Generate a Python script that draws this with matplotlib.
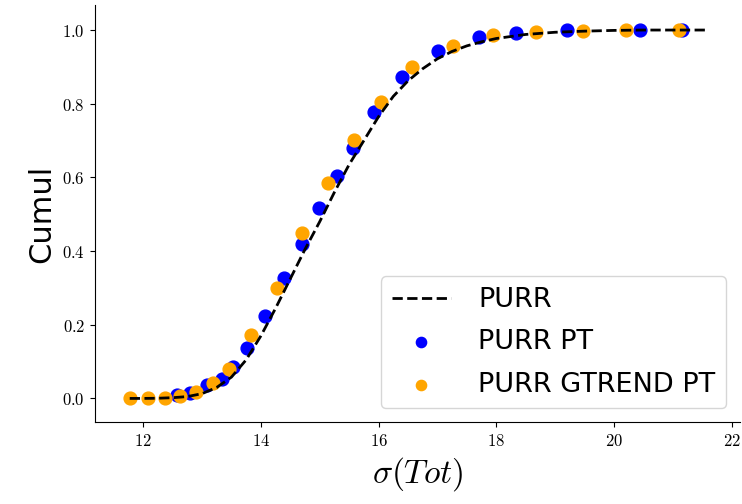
import matplotlib
matplotlib.use("Agg")
import matplotlib.pyplot as plt
from matplotlib.ticker import FuncFormatter

plt.rcParams['mathtext.fontset'] = 'cm'

# PURR cumulative curve
purr_x = [11.77, 12.0, 12.25, 12.5, 12.75, 13.0, 13.25, 13.5, 13.75, 14.0,
          14.25, 14.5, 14.75, 15.0, 15.25, 15.5, 15.75, 16.0, 16.25, 16.5,
          16.75, 17.0, 17.25, 17.5, 17.75, 18.0, 18.5, 19.0, 19.5, 20.0,
          20.5, 21.0, 21.6]
purr_y = [0.0, 0.0, 0.0005, 0.002, 0.005, 0.013, 0.03, 0.058, 0.105, 0.17,
          0.245, 0.325, 0.405, 0.48, 0.56, 0.635, 0.70, 0.765, 0.82, 0.862,
          0.895, 0.922, 0.942, 0.957, 0.968, 0.977, 0.988, 0.994, 0.997, 0.999,
          1.0, 1.0, 1.0]

# PURR PT points
pt_x = [12.57, 12.79, 13.09, 13.34, 13.52, 13.77, 14.07, 14.40, 14.70, 14.99,
        15.29, 15.57, 15.92, 16.39, 17.01, 17.70, 18.33, 19.21, 20.44, 21.15]
pt_y = [0.009, 0.014, 0.036, 0.052, 0.085, 0.138, 0.223, 0.326, 0.419, 0.516,
        0.604, 0.681, 0.777, 0.873, 0.944, 0.980, 0.991, 1.0, 1.0, 1.0]

# PURR GTREND PT points
gt_x = [11.77, 12.08, 12.37, 12.62, 12.90, 13.18, 13.46, 13.83, 14.27, 14.70,
        15.14, 15.58, 16.04, 16.56, 17.26, 17.95, 18.67, 19.48, 20.21, 21.10]
gt_y = [0.0, 0.0, 0.0, 0.006, 0.018, 0.041, 0.079, 0.172, 0.301, 0.448,
        0.584, 0.701, 0.805, 0.900, 0.957, 0.986, 0.995, 0.998, 1.0, 1.0]

fig = plt.figure(figsize=(7.42, 5.04), dpi=100)
ax = fig.add_axes([0.1276, 0.1627, 0.8694, 0.8274])

ax.plot(purr_x, purr_y, 'k--', lw=2, label='PURR', zorder=3)
ax.scatter(pt_x, pt_y, s=85, color='blue', label='PURR PT', zorder=2)
ax.scatter(gt_x, gt_y, s=85, color='orange', label='PURR GTREND PT', zorder=2)

ax.set_xlim(11.174, 22.14)
ax.set_ylim(-0.064, 1.068)
ax.set_xticks([12, 14, 16, 18, 20, 22])
ax.set_yticks([0.0, 0.2, 0.4, 0.6, 0.8, 1.0])
ax.xaxis.set_major_formatter(FuncFormatter(lambda v, p: r'$%d$' % v))
ax.yaxis.set_major_formatter(FuncFormatter(lambda v, p: r'$%.1f$' % v))
ax.tick_params(labelsize=12)

ax.spines['top'].set_visible(False)
ax.spines['right'].set_visible(False)

ax.set_xlabel(r'$\sigma(Tot)$', fontsize=24)
ax.set_ylabel('Cumul', fontsize=22)

ax.legend(loc='lower right', fontsize=19.5, labelspacing=0.6,
          borderaxespad=0.5, markerscale=0.8, handletextpad=1.0,
          handlelength=2.2)

fig.savefig('out.png', dpi=100)
